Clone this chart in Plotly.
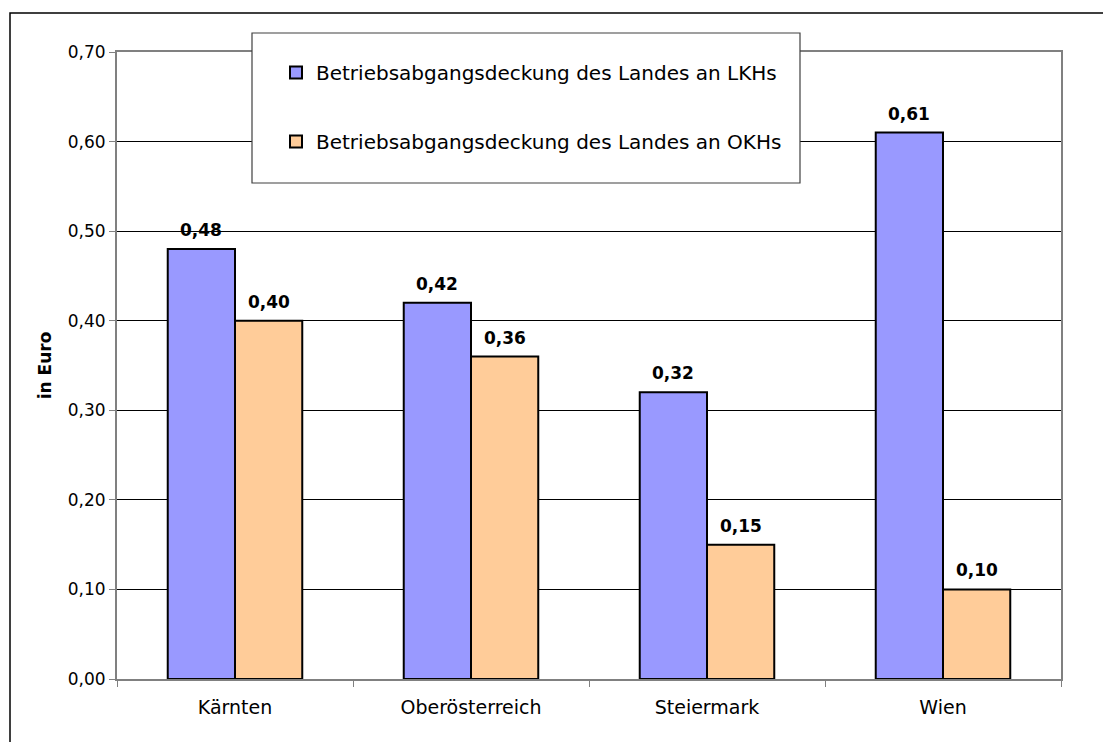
import plotly.graph_objects as go

categories = ["Kärnten", "Oberösterreich", "Steiermark", "Wien"]
lkh_values = [0.48, 0.42, 0.32, 0.61]
okh_values = [0.40, 0.36, 0.15, 0.10]
series_names = ["Betriebsabgangsdeckung des Landes an LKHs",
                "Betriebsabgangsdeckung des Landes an OKHs"]
y_ticks = [0.0, 0.1, 0.2, 0.3, 0.4, 0.5, 0.6, 0.7]

OFF = 8  # default page body margin
W, H = 1111 - OFF, 742 - OFF
L, R, T, B = 117, 1061, 52, 679  # plot area in page px
pw, ph = R - L, B - T

def px(x):
    return (x - L) / pw

def py(y):
    return (B - y) / ph

FONT = "DejaVu Sans, Liberation Sans, Arial, sans-serif"
bargap = 0.43

fig = go.Figure()
fig.add_trace(go.Bar(x=categories, y=lkh_values, name=series_names[0],
                     marker=dict(color="#9999FF", line=dict(color="black", width=2)),
                     legendgroup="a"))
fig.add_trace(go.Bar(x=categories, y=okh_values, name=series_names[1],
                     marker=dict(color="#FFCC99", line=dict(color="black", width=2)),
                     legendgroup="b"))

bar_w_px = (1 - bargap) / 2 * pw / len(categories)
annotations = []
for vals, sh in ((lkh_values, -bar_w_px / 2), (okh_values, bar_w_px / 2)):
    for c, v in zip(categories, vals):
        annotations.append(dict(x=c, y=v, xref="x", yref="y", text=f"<b>{v:.2f}</b>".replace(".", ","),
                                showarrow=False, xshift=sh, yshift=7, yanchor="bottom",
                                font=dict(family=FONT, size=17, color="black")))

shapes = [
    # outer chart border (right and bottom edges fall outside the visible page)
    dict(type="rect", xref="paper", yref="paper", x0=px(10), x1=px(1125), y0=py(760), y1=py(13),
         line=dict(color="black", width=1.5), fillcolor="rgba(0,0,0,0)", layer="above"),
    # legend box
    dict(type="rect", xref="paper", yref="paper", x0=px(252), x1=px(800), y0=py(183), y1=py(33),
         line=dict(color="#404040", width=1.2), fillcolor="white", layer="above"),
]

fig.update_layout(
    width=W, height=H,
    margin=dict(l=L - OFF, r=W + OFF - R, t=T - OFF, b=H + OFF - B, pad=0),
    paper_bgcolor="white", plot_bgcolor="white",
    barmode="group", bargap=bargap, bargroupgap=0,
    separators=", ",
    font=dict(family=FONT, size=17, color="black"),
    showlegend=True,
    legend=dict(x=px(276), y=py(53), xanchor="left", yanchor="top",
                bgcolor="rgba(0,0,0,0)", borderwidth=0,
                font=dict(family=FONT, size=20, color="black"),
                traceorder="grouped", tracegroupgap=40,
                itemsizing="constant"),
    xaxis=dict(showline=True, linecolor="#808080", linewidth=2, mirror=True,
               ticks="outside", tickson="boundaries", ticklen=6, tickcolor="#808080",
               ticklabelstandoff=10,
               tickfont=dict(family=FONT, size=19, color="black"), showgrid=False),
    yaxis=dict(range=[0, 0.7], tickvals=y_ticks, tickformat=".2f",
               showline=True, linecolor="#808080", linewidth=2, mirror=True,
               ticks="outside", ticklen=6, tickcolor="#808080",
               showgrid=True, gridcolor="black", gridwidth=1,
               tickfont=dict(family=FONT, size=17, color="black"),
               title=dict(text="<b>in Euro</b>", font=dict(family=FONT, size=17, color="black"),
                          standoff=12)),
    annotations=annotations,
    shapes=shapes,
)

fig.write_html("out.html")
